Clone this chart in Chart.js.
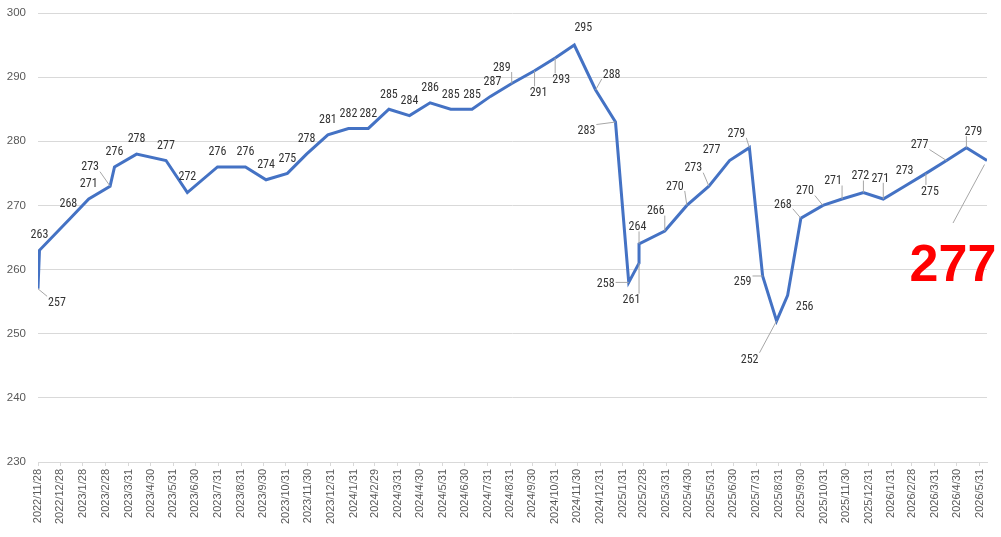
<!DOCTYPE html>
<html>
<head>
<meta charset="utf-8">
<script src="https://cdn.jsdelivr.net/npm/chart.js@4.4.1/dist/chart.umd.min.js"></script>
<style>
html,body{margin:0;padding:0;background:#fff;}
#wrap{width:1001px;height:537px;position:relative;}
</style>
</head>
<body>
<div id="wrap"><canvas id="c" width="1001" height="537"></canvas></div>
<script>
// ---- data ----
const dates = [
  "2022/11/28","2022/11/30","2023/1/11","2023/2/5","2023/3/6","2023/3/12","2023/4/11","2023/5/21",
  "2023/6/19","2023/7/30","2023/9/6","2023/10/4","2023/11/2","2023/11/28","2023/12/27","2024/1/24",
  "2024/2/20","2024/3/19","2024/4/16","2024/5/14","2024/6/11","2024/7/10","2024/8/4","2024/9/2",
  "2024/10/3","2024/10/31","2024/11/26","2024/12/25","2025/1/21","2025/2/8","2025/2/22","2025/2/22",
  "2025/3/29","2025/4/28","2025/5/28","2025/6/25","2025/7/22","2025/8/9","2025/8/28","2025/9/12",
  "2025/9/30","2025/10/30","2025/11/25","2025/12/24","2026/1/20","2026/2/18","2026/3/19","2026/4/16",
  "2026/5/13","2026/6/10"
];
const values = [
  257,263,268,271,273,276,278,277,
  272,276,276,274,275,278,281,282,
  282,285,284,286,285,285,287,289,
  291,293,295,288,283,258,261,264,
  266,270,273,277,279,259,252,256,
  268,270,271,272,271,273,275,277,
  279,277
];
const tickLabels = [
  "2022/11/28","2022/12/28","2023/1/28","2023/2/28","2023/3/31","2023/4/30","2023/5/31","2023/6/30",
  "2023/7/31","2023/8/31","2023/9/30","2023/10/31","2023/11/30","2023/12/31","2024/1/31","2024/2/29",
  "2024/3/31","2024/4/30","2024/5/31","2024/6/30","2024/7/31","2024/8/31","2024/9/30","2024/10/31",
  "2024/11/30","2024/12/31","2025/1/31","2025/2/28","2025/3/31","2025/4/30","2025/5/31","2025/6/30",
  "2025/7/31","2025/8/31","2025/9/30","2025/10/31","2025/11/30","2025/12/31","2026/1/31","2026/2/28",
  "2026/3/31","2026/4/30","2026/5/31"
];
const yTicks = [230,240,250,260,270,280,290,300];
const highlightValue = "277";

// ---- label placement (pixel offsets of label centre from point, leader flag) ----
const labelOffsets = [
  [19,13,1],[0,-17,0],[-2,-16,0],[0,-16,0],[-20,-20,1],[0,-16,0],[0,-16,0],[0,-16,0],
  [0,-17,0],[0,-16,0],[0,-16,0],[0,-16,0],[0,-16,0],[0,-16,0],[0,-16,0],[0,-16,0],
  [0,-16,0],[0,-16,0],[0,-16,0],[0,-16,0],[0,-16,0],[0,-16,0],[2,-16,0],[-10,-17,1],
  [4,21,1],[6,21,1],[9,-18,0],[16,-16.5,1],[-29,8,1],[-23,0.5,1],[-7.6,36,1],[-1.6,-18,1],
  [-9,-21,1],[-12,-20,1],[-15.6,-19,1],[-18,-12,0],[-13,-15.4,1],[-20,5,1],[-27,37.4,1],[17,10,0],
  [-18,-15,1],[-18,-15.4,1],[-9,-19,1],[-3,-17.6,1],[-3,-21.7,1],[0,-16,0],[4,17,1],[-27,-16.5,1],
  [7,-17,1],[0,0,0]
];

function dayNum(s){
  const p = s.split('/').map(Number);
  return Date.UTC(p[0], p[1]-1, p[2]) / 86400000;
}
const d0 = dayNum(dates[0]);
const xs = dates.map(d => dayNum(d) - d0);
const tickXs = tickLabels.map(d => dayNum(d) - d0);
const points = xs.map((x,i) => ({x:x, y:values[i]}));

const LABEL_FONT = "12px 'Liberation Sans Narrow', 'Roboto Condensed', 'DejaVu Sans Condensed', 'Liberation Sans', Arial, sans-serif";

const labelPlugin = {
  id: 'excelLabels',
  afterDatasetsDraw(chart){
    const ctx = chart.ctx;
    const meta = chart.getDatasetMeta(0);
    ctx.save();
    const n = meta.data.length;
    meta.data.forEach((el, i) => {
      const px = el.x, py = el.y;
      if (i === n-1) {
        const cx = px - 34, base = py + 120.5;
        ctx.strokeStyle = '#a6a6a6';
        ctx.lineWidth = 1;
        ctx.beginPath();
        ctx.moveTo(cx, base - 58);
        ctx.lineTo(px - 2.5, py + 4);
        ctx.stroke();
        ctx.font = "bold 52px 'Liberation Sans', Arial, sans-serif";
        ctx.fillStyle = '#FF0000';
        ctx.textAlign = 'center';
        ctx.textBaseline = 'alphabetic';
        ctx.fillText(highlightValue, cx, base);
        return;
      }
      const off = labelOffsets[i];
      const cx = px + off[0], cy = py + off[1];
      const txt = String(values[i]);
      ctx.font = LABEL_FONT;
      const w = ctx.measureText(txt).width + 2, h = 11;
      if (off[2]) {
        const lx = Math.min(Math.max(px, cx - w/2), cx + w/2);
        const ly = Math.min(Math.max(py, cy - h/2), cy + h/2);
        ctx.strokeStyle = '#a6a6a6';
        ctx.lineWidth = 1;
        ctx.beginPath();
        ctx.moveTo(lx, ly);
        ctx.lineTo(px, py);
        ctx.stroke();
      }
      ctx.fillStyle = '#333333';
      ctx.textAlign = 'center';
      ctx.textBaseline = 'alphabetic';
      ctx.fillText(txt, cx, cy + 4.3);
    });
    ctx.restore();
  }
};

new Chart(document.getElementById('c'), {
  type: 'line',
  data: {
    datasets: [{
      data: points,
      borderColor: '#4472C4',
      borderWidth: 3,
      pointRadius: 0,
      pointHoverRadius: 0,
      tension: 0,
      fill: false
    }]
  },
  options: {
    responsive: false,
    animation: false,
    devicePixelRatio: 1,
    layout: { padding: { top: 13, right: 14, left: 0, bottom: 0 } },
    plugins: { legend: { display: false }, tooltip: { enabled: false } },
    scales: {
      x: {
        type: 'linear',
        min: 0,
        max: xs[xs.length-1],
        afterBuildTicks(scale){ scale.ticks = tickXs.map(v => ({value: v})); },
        afterFit(scale){ scale.height = 75; },
        ticks: {
          autoSkip: false,
          minRotation: 90,
          maxRotation: 90,
          padding: 3,
          color: '#595959',
          font: { family: "'Liberation Sans', Arial, sans-serif", size: 11 },
          callback: (v, i) => tickLabels[i]
        },
        grid: { drawOnChartArea: false, drawTicks: true, tickLength: 4, color: '#d9d9d9' },
        border: { display: true, color: '#d9d9d9', width: 1 }
      },
      y: {
        min: 230,
        max: 300,
        afterBuildTicks(scale){ scale.ticks = yTicks.map(v => ({value: v})); },
        afterFit(scale){ scale.width = 38; scale.paddingTop = 0; scale.paddingBottom = 0; },
        ticks: {
          padding: 12,
          color: '#595959',
          font: { family: "'Liberation Sans', Arial, sans-serif", size: 11.5 }
        },
        grid: { color: '#d9d9d9', drawTicks: false, lineWidth: 1 },
        border: { display: false }
      }
    }
  },
  plugins: [labelPlugin]
});
</script>
</body>
</html>
